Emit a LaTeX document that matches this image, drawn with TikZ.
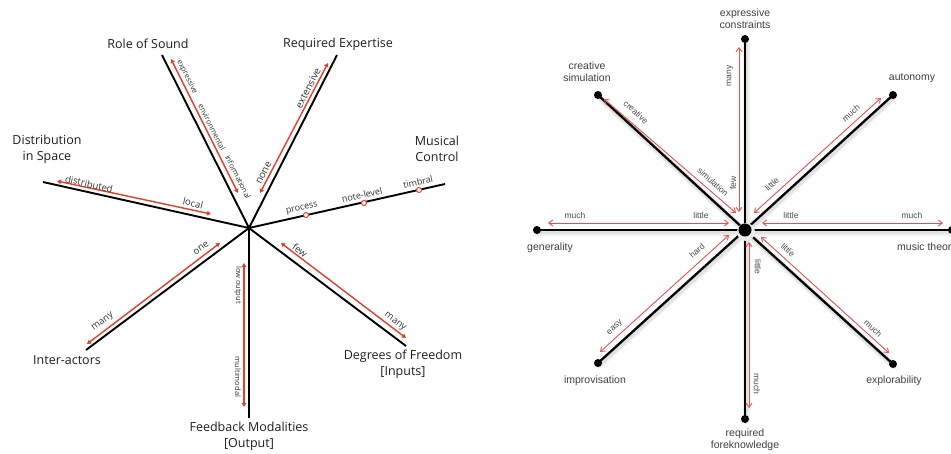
\documentclass[tikz,border=0pt]{standalone}
\usepackage{fontspec}
\setmainfont{Open Sans}
\newfontfamily\helv{Liberation Sans}
\usetikzlibrary{arrows.meta}
\definecolor{axisred}{HTML}{E0402A}
\definecolor{softred}{HTML}{E85050}
\definecolor{inkgray}{HTML}{1E1E1E}
\tikzset{
  axisL/.style={black, line width=1.9pt},
  rangeL/.style={axisred, line width=1.4pt, {Triangle[length=4pt,width=4.5pt]}-{Triangle[length=4pt,width=4.5pt]}},
  bigLbl/.style={font=\fontsize{12.5}{16}\selectfont, text=inkgray, align=center, inner sep=0pt},
  smallLbl/.style={font=\fontsize{9}{10}\selectfont, text=inkgray!90, inner sep=0pt},
  tinyLbl/.style={font=\fontsize{7.5}{8}\selectfont, text=inkgray!90, inner sep=0pt},
  tick/.style={circle, draw=axisred, fill=white, line width=1pt, inner sep=0pt, minimum size=5pt},
  axisR/.style={black, line width=2.3pt},
  shade/.style={line width=#1, black, opacity=0.06, line cap=round},
  rangeR/.style={softred, line width=0.9pt, {Straight Barb[length=4pt,width=6pt]}-{Straight Barb[length=4pt,width=6pt]}},
  rLbl/.style={font=\helv\fontsize{10.5}{12}\selectfont, text=inkgray!85, align=center, inner sep=0pt},
  rsLbl/.style={font=\helv\fontsize{8.5}{9}\selectfont, text=inkgray!80, inner sep=0pt},
  enddot/.style={circle, fill=black, inner sep=0pt, minimum size=8pt}
}
\begin{document}
\begin{tikzpicture}[x=1pt, y=-1pt]
\useasboundingbox (0,0) rectangle (951,453);
\clip (0,0) rectangle (951,453);
\fill[white] (0,0) rectangle (951,453);

% ---------------- left: seven design dimensions ----------------
\coordinate (C)  at (249,228);
\coordinate (RS) at (162,55);
\coordinate (RE) at (337,55);
\coordinate (DS) at (43,182);
\coordinate (MC) at (445,184);
\coordinate (IA) at (86,350);
\coordinate (FM) at (249,418);
\coordinate (DF) at (406,346);

\foreach \e in {RS,RE,DS,MC,IA,FM,DF} \draw[axisL] (C) -- (\e);

% range arrows beside the axes
\coordinate (rs1) at (171,59);  \coordinate (rs2) at (238,193);
\coordinate (re1) at (328,63);  \coordinate (re2) at (260,193);
\coordinate (ds1) at (57,181);  \coordinate (ds2) at (211,214);
\coordinate (ia1) at (87,344);  \coordinate (ia2) at (220,243);
\coordinate (fm1) at (244,263); \coordinate (fm2) at (244,407);
\coordinate (df1) at (281,243); \coordinate (df2) at (406,338);
\draw[rangeL] (rs1) -- (rs2);
\draw[rangeL] (re1) -- (re2);
\draw[rangeL] (ds1) -- (ds2);
\draw[rangeL] (ia1) -- (ia2);
\draw[rangeL] (fm1) -- (fm2);
\draw[rangeL] (df1) -- (df2);

% discrete levels of musical control
\node[tick] (mc1) at (306,215) {};
\node[tick] (mc2) at (364,203) {};
\node[tick] (mc3) at (419,190) {};

% axis titles
\node[bigLbl] (tRS) at (148,44) {Role of Sound};
\node[bigLbl] (tRE) at (338,44) {Required Expertise};
\node[bigLbl] (tDS) at (47,149) {Distribution\\in Space};
\node[bigLbl] (tMC) at (437,149) {Musical\\Control};
\node[bigLbl] (tIA) at (67,360) {Inter-actors};
\node[bigLbl] (tFM) at (249,436) {Feedback Modalities\\{[Output]}};
\node[bigLbl] (tDF) at (403,364) {Degrees of Freedom\\{[Inputs]}};

% range labels
\node[tinyLbl, rotate=-63.3] (l1) at (187,77) {expressive};
\node[tinyLbl, rotate=-63.3] (l2) at (212,127) {environmental};
\node[tinyLbl, rotate=-63.3] (l3) at (238,177) {informational};
\node[smallLbl, font=\fontsize{10}{11}\selectfont, rotate=63] (l4) at (308,88) {extensive};
\node[smallLbl, font=\fontsize{10}{11}\selectfont, rotate=63] (l5) at (264,173) {none};
\node[smallLbl, font=\fontsize{9.5}{10}\selectfont, rotate=-12.6] (l6) at (89,184) {distributed};
\node[smallLbl, font=\fontsize{9.5}{10}\selectfont, rotate=-12.6] (l7) at (193,203) {local};
\node[smallLbl, rotate=12.65] (l8) at (302,209) {process};
\node[smallLbl, rotate=12.65] (l9) at (362,195) {note-level};
\node[smallLbl, rotate=12.65] (l10) at (418,182) {timbral};
\node[smallLbl, font=\fontsize{9.5}{10}\selectfont, rotate=36.8] (l11) at (201,248) {one};
\node[smallLbl, font=\fontsize{9.5}{10}\selectfont, rotate=36.8] (l12) at (103,322) {many};
\node[tinyLbl, rotate=-90] (l13) at (238,285) {low output};
\node[tinyLbl, rotate=-90] (l14) at (238,377) {multimodal};
\node[smallLbl, font=\fontsize{9.5}{10}\selectfont, rotate=-36.9] (l15) at (300,250) {few};
\node[smallLbl, font=\fontsize{9.5}{10}\selectfont, rotate=-36.9] (l16) at (395,322) {many};

% ---------------- right: eight dimensions ----------------
\coordinate (O)  at (745,230);
\coordinate (EC) at (745,39);
\coordinate (CS) at (598,95);
\coordinate (AU) at (893,95);
\coordinate (GE) at (537,230);
\coordinate (MT) at (952,230);
\coordinate (IM) at (598,363);
\coordinate (EX) at (893,364);
\coordinate (RF) at (745,419);

% soft drop shadow under the spokes
\foreach \e in {EC,CS,AU,GE,MT,IM,EX,RF} {
  \draw[shade=7pt] ([shift={(1,2)}]O) -- ([shift={(1,2)}]\e);
  \draw[shade=4.5pt] ([shift={(1,2)}]O) -- ([shift={(1,2)}]\e);
}
\foreach \e in {EC,CS,AU,GE,MT,IM,EX,RF} {
  \draw[axisR] (O) -- (\e);
  \node[enddot] (d\e) at (\e) {};
}
\fill[black!8] (746,232) circle (9pt);
\node[enddot, minimum size=13pt] (dO) at (O) {};

% range arrows
\coordinate (ec1) at (739,47);  \coordinate (ec2) at (739,212);
\coordinate (cs1) at (604,99);  \coordinate (cs2) at (736,213);
\coordinate (au1) at (881,98);  \coordinate (au2) at (754,213);
\coordinate (ge1) at (548,223); \coordinate (ge2) at (729,223);
\coordinate (mt1) at (762,223); \coordinate (mt2) at (943,223);
\coordinate (im1) at (600,352); \coordinate (im2) at (729,235);
\coordinate (rf1) at (749,242); \coordinate (rf2) at (749,408);
\coordinate (ex1) at (761,237); \coordinate (ex2) at (889,353);
\draw[rangeR] (ec1) -- (ec2);
\draw[rangeR] (cs1) -- (cs2);
\draw[rangeR] (au1) -- (au2);
\draw[rangeR] (ge1) -- (ge2);
\draw[rangeR] (mt1) -- (mt2);
\draw[rangeR] (im1) -- (im2);
\draw[rangeR] (rf1) -- (rf2);
\draw[rangeR] (ex1) -- (ex2);

% dimension names
\node[rLbl] (nEC) at (745,18.5) {expressive\\constraints};
\node[rLbl] (nCS) at (587,72) {creative\\simulation};
\node[rLbl] (nAU) at (912,78) {autonomy};
\node[rLbl] (nGE) at (550,248) {generality};
\node[rLbl, anchor=west] (nMT) at (897,248) {music theory};
\node[rLbl] (nIM) at (595,381) {improvisation};
\node[rLbl] (nEX) at (894,381) {explorability};
\node[rLbl] (nRF) at (745,440) {required\\foreknowledge};

% range labels
\node[rsLbl, rotate=90] (r1) at (730,76) {many};
\node[rsLbl, rotate=90] (r2) at (733,183) {few};
\node[rsLbl, rotate=-42.6] (r3) at (636,112) {creative};
\node[rsLbl, rotate=-42.6] (r4) at (713,182) {simulation};
\node[rsLbl, rotate=42.4] (r5) at (851,113) {much};
\node[rsLbl, rotate=42.4] (r6) at (772,184) {little};
\node[rsLbl] (r7) at (575,215) {much};
\node[rsLbl] (r8) at (701,215) {little};
\node[rsLbl] (r9) at (791,215) {little};
\node[rsLbl] (r10) at (912,215) {much};
\node[rsLbl, rotate=42] (r11) at (697,251) {hard};
\node[rsLbl, rotate=42] (r12) at (615,328) {easy};
\node[rsLbl, rotate=-90] (r13) at (758,267) {little};
\node[rsLbl, rotate=-90] (r14) at (757,384) {much};
\node[rsLbl, rotate=-42] (r15) at (788,250) {little};
\node[rsLbl, rotate=-42] (r16) at (873,328) {much};
\end{tikzpicture}
\end{document}
